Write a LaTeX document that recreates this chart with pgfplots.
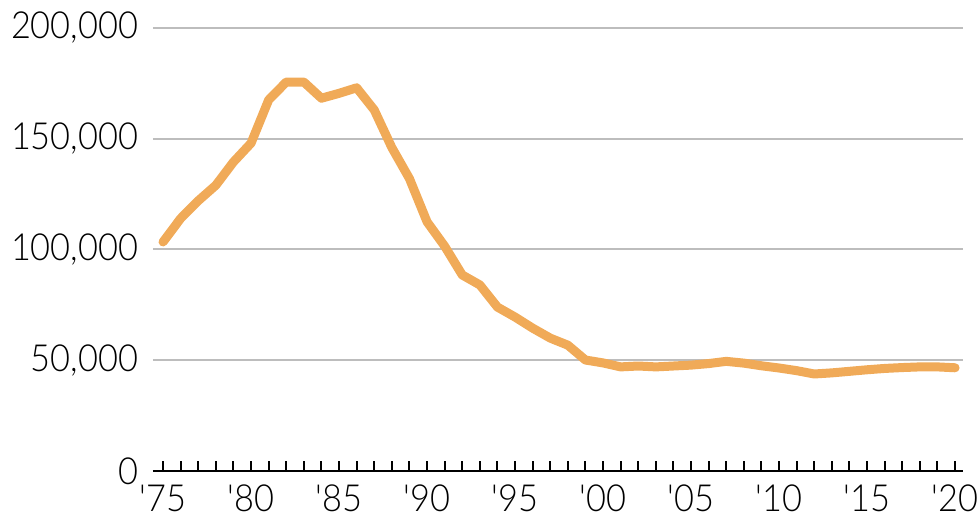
\documentclass[border=0pt]{standalone}
\usepackage{fontspec}
\setmainfont{Lato}[UprightFont=* Light, Ligatures=TeXOff, FakeStretch=0.92]
\usepackage{pgfplots}
\pgfplotsset{compat=1.18}
\definecolor{lineor}{HTML}{F0AA58}
\definecolor{gridg}{HTML}{BDBDBD}
\begin{document}
\begin{tikzpicture}
\begin{axis}[
 scale only axis, width=607.5pt, height=332.25pt,
 xmin=1974.43, xmax=2020.45, ymin=0, ymax=200000,
 scaled y ticks=false,
 axis x line=bottom, axis y line=left,
 x axis line style={-, line width=2pt, black},
 y axis line style={draw=none},
 xtick={1975,1980,...,2020},
 xticklabels={'75,'80,'85,'90,'95,'00,'05,'10,'15,'20},
 minor x tick num=4,
 tick align=inside,
 x tick style={black, line width=1.5pt},
 major tick length=7.5pt, minor tick length=7.5pt,
 ytick={0,50000,100000,150000,200000},
 yticklabels={0,{50,000},{100,000},{150,000},{200,000}},
 y tick style={draw=none},
 ymajorgrids, grid style={gridg, line width=1.5pt},
 tick label style={font=\fontsize{28}{30}\selectfont},
 xticklabel style={anchor=north, inner sep=0pt, yshift=-10pt},
 yticklabel style={anchor=east, inner sep=0pt, xshift=-11pt},
 clip=false,
]
\addplot[lineor, line width=6.75pt, line join=round, line cap=round] coordinates {
(1975,103400) (1976,114000) (1977,122000) (1978,129000) (1979,139500)
(1980,148000) (1981,167500) (1982,175600) (1983,175600) (1984,168300)
(1985,170500) (1986,173000) (1987,163000) (1988,146000) (1989,132000)
(1990,112500) (1991,101500) (1992,88500) (1993,84000) (1994,74000)
(1995,69500) (1996,64500) (1997,60000) (1998,56800) (1999,50100)
(2000,48800) (2001,47000) (2002,47400) (2003,47000) (2004,47400)
(2005,47800) (2006,48500) (2007,49500) (2008,48700) (2009,47500)
(2010,46500) (2011,45300) (2012,43800) (2013,44300) (2014,45000)
(2015,45700) (2016,46300) (2017,46700) (2018,47000) (2019,47000)
(2020,46600)};
\end{axis}
\pgfresetboundingbox
\path[use as bounding box] ([shift={(-114.75pt,-34.5pt)}]current axis.south west) rectangle ++(733.5pt,387.75pt);
\end{tikzpicture}
\end{document}
